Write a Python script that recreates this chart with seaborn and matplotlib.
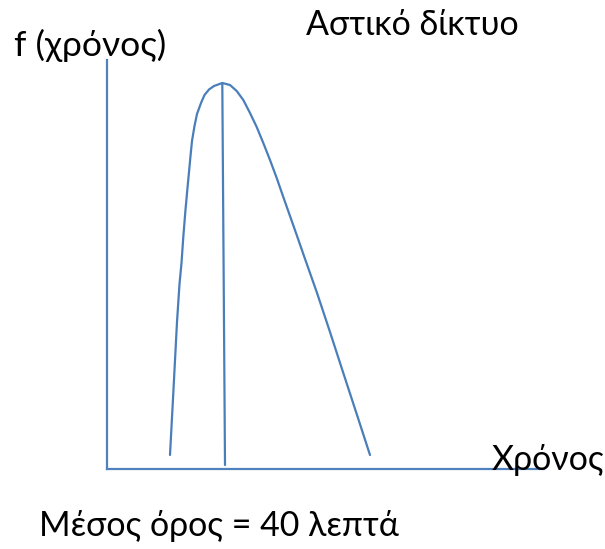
import matplotlib
matplotlib.use("Agg")
import matplotlib.pyplot as plt
import seaborn as sns
import pandas as pd

# Curve values (arbitrary units: time on x, density on y)
left_x = [63, 66.3, 70, 72.5, 74.5, 76.3, 78.3, 80.3, 82, 83.5, 85, 87.5, 90, 94, 97.5, 102, 107, 115.3]
left_y = [14, 76, 147, 185, 206, 232, 257, 279, 297, 313, 328, 343, 355, 366, 374, 379.5, 383, 386]
right_x = [123, 129.7, 136.3, 143, 149.7, 156.3, 163, 169.7, 176.3, 183, 189.7, 196.3, 209.7, 223, 236.3, 249.7, 263]
right_y = [384, 378, 369, 356, 342, 326, 309, 291, 272, 253, 234, 215, 177, 137, 96, 55, 14]
mode_x = [115.3, 118]
mode_y = [386, 4]

title = "Αστικό δίκτυο"
ylabel = "f (χρόνος)"
xlabel = "Χρόνος"
note = "Μέσος όρος = 40 λεπτά"

sns.set_theme(style="white")
plt.rcParams['font.family'] = ['Lato', 'Open Sans', 'DejaVu Sans']

W, H = 605, 549
fig = plt.figure(figsize=(W / 100, H / 100), dpi=100)
ax = fig.add_axes([107 / W, (H - 469) / H, (544 - 107) / W, (469 - 60) / H])

curve = pd.DataFrame({"x": left_x + right_x, "y": left_y + right_y})
line_col = "#4A7EBB"
sns.lineplot(data=curve, x="x", y="y", sort=False, ax=ax, color=line_col, lw=1.6,
             solid_joinstyle="round")
sns.lineplot(x=mode_x, y=mode_y, sort=False, ax=ax, color=line_col, lw=1.6)

ax.set_xlim(0, 437)
ax.set_ylim(0, 409)
ax.set_xticks([])
ax.set_yticks([])
ax.set_xlabel("")
ax.set_ylabel("")
for s in ["top", "right"]:
    ax.spines[s].set_visible(False)
for s in ["left", "bottom"]:
    ax.spines[s].set_color("#4F81BD")
    ax.spines[s].set_linewidth(1.6)
ax.patch.set_alpha(0)

fs = 24.5
fig.text(14 / W, 1 - 45 / H, ylabel, fontsize=25.5, ha="left", va="center", color="black")
fig.text(306 / W, 1 - 25 / H, title, fontsize=fs, ha="left", va="center", color="black")
fig.text(492 / W, 1 - 460 / H, xlabel, fontsize=fs, ha="left", va="center", color="black", zorder=0)
fig.text(39 / W, 1 - 526 / H, note, fontsize=fs, ha="left", va="center", color="black")

fig.savefig("out.png", dpi=100, facecolor="white")
